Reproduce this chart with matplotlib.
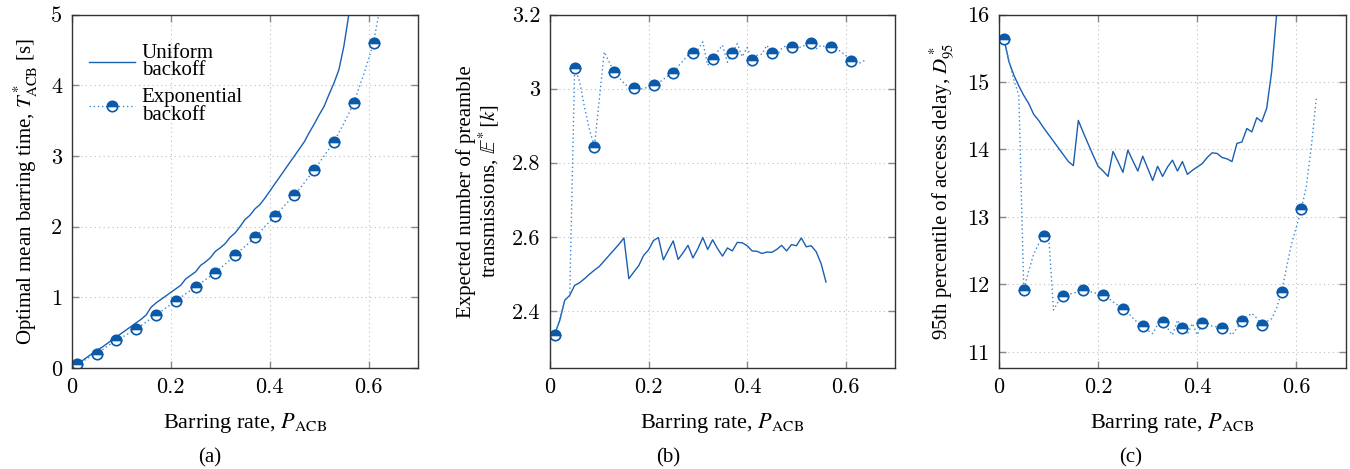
import os
import matplotlib
matplotlib.use('Agg')
import matplotlib.pyplot as plt
from matplotlib.font_manager import FontProperties
import numpy as np

plt.rcParams['font.family'] = ['Liberation Serif', 'DejaVu Serif']
plt.rcParams['mathtext.fontset'] = 'stix'

# barring rate grid, steps of 0.01
# (a) optimal mean barring time
pa_uni = [0.01, 0.02, 0.03, 0.04, 0.05, 0.06, 0.07, 0.08, 0.09, 0.10,
          0.11, 0.12, 0.13, 0.14, 0.15, 0.16, 0.17, 0.18, 0.19, 0.20,
          0.21, 0.22, 0.23, 0.24, 0.25, 0.26, 0.27, 0.28, 0.29, 0.30,
          0.31, 0.32, 0.33, 0.34, 0.35, 0.36, 0.37, 0.38, 0.39, 0.40,
          0.41, 0.42, 0.43, 0.44, 0.45, 0.46, 0.47, 0.48, 0.49, 0.50,
          0.51, 0.52, 0.53, 0.54, 0.55, 0.56, 0.57]
ta_uni = [0.05, 0.10, 0.15, 0.20, 0.25, 0.29, 0.34, 0.39, 0.44, 0.49,
          0.54, 0.59, 0.64, 0.69, 0.75, 0.86, 0.92, 0.97, 1.02, 1.07,
          1.12, 1.17, 1.26, 1.31, 1.36, 1.45, 1.50, 1.56, 1.65, 1.70,
          1.76, 1.85, 1.91, 2.00, 2.10, 2.16, 2.25, 2.31, 2.40, 2.50,
          2.60, 2.70, 2.80, 2.90, 3.00, 3.10, 3.20, 3.33, 3.45, 3.58,
          3.70, 3.87, 4.03, 4.22, 4.55, 5.00, 5.80]

pa_exp = [0.01, 0.02, 0.03, 0.04, 0.05, 0.06, 0.07, 0.08, 0.09, 0.10,
          0.11, 0.12, 0.13, 0.14, 0.15, 0.16, 0.17, 0.18, 0.19, 0.20,
          0.21, 0.22, 0.23, 0.24, 0.25, 0.26, 0.27, 0.28, 0.29, 0.30,
          0.31, 0.32, 0.33, 0.34, 0.35, 0.36, 0.37, 0.38, 0.39, 0.40,
          0.41, 0.42, 0.43, 0.44, 0.45, 0.46, 0.47, 0.48, 0.49, 0.50,
          0.51, 0.52, 0.53, 0.54, 0.55, 0.56, 0.57, 0.58, 0.59, 0.60,
          0.61, 0.62, 0.63]
ta_exp = [0.06, 0.09, 0.13, 0.17, 0.20, 0.25, 0.30, 0.35, 0.40, 0.43,
          0.47, 0.51, 0.55, 0.60, 0.65, 0.70, 0.755, 0.80, 0.85, 0.90,
          0.95, 1.00, 1.05, 1.10, 1.15, 1.20, 1.25, 1.30, 1.35, 1.41,
          1.47, 1.53, 1.60, 1.66, 1.72, 1.78, 1.85, 1.92, 2.00, 2.07,
          2.15, 2.22, 2.30, 2.37, 2.45, 2.53, 2.62, 2.71, 2.80, 2.90,
          3.00, 3.10, 3.20, 3.33, 3.46, 3.60, 3.75, 3.95, 4.15, 4.37,
          4.60, 4.98, 5.40]

# (b) expected number of preamble transmissions
pb_uni = pa_uni[:56]
eb_uni = [2.339, 2.375, 2.429, 2.442, 2.469, 2.476, 2.487, 2.499, 2.510, 2.520,
          2.535, 2.550, 2.565, 2.580, 2.597, 2.487, 2.505, 2.522, 2.550, 2.565,
          2.590, 2.598, 2.538, 2.564, 2.589, 2.539, 2.557, 2.577, 2.543, 2.568,
          2.598, 2.566, 2.592, 2.568, 2.548, 2.570, 2.562, 2.585, 2.584, 2.576,
          2.562, 2.561, 2.555, 2.559, 2.558, 2.566, 2.577, 2.562, 2.579, 2.576,
          2.597, 2.573, 2.576, 2.560, 2.528, 2.478]

pb_exp = [0.01, 0.02, 0.03, 0.04, 0.05, 0.06, 0.07, 0.08, 0.09, 0.10,
          0.11, 0.12, 0.13, 0.14, 0.15, 0.16, 0.17, 0.18, 0.19, 0.20,
          0.21, 0.22, 0.23, 0.24, 0.25, 0.26, 0.27, 0.28, 0.29, 0.30,
          0.31, 0.32, 0.33, 0.34, 0.35, 0.36, 0.37, 0.38, 0.39, 0.40,
          0.41, 0.42, 0.43, 0.44, 0.45, 0.46, 0.47, 0.48, 0.49, 0.50,
          0.51, 0.52, 0.53, 0.54, 0.55, 0.56, 0.57, 0.58, 0.59, 0.60,
          0.61, 0.62, 0.63, 0.64]
eb_exp = [2.335, 2.380, 2.430, 2.440, 3.056, 3.020, 2.950, 2.890, 2.843, 2.970,
          3.099, 3.072, 3.046, 3.030, 3.015, 3.003, 3.002, 2.998, 3.000, 3.005,
          3.010, 3.015, 3.025, 3.035, 3.041, 3.060, 3.075, 3.090, 3.095, 3.105,
          3.126, 3.063, 3.079, 3.100, 3.117, 3.071, 3.097, 3.121, 3.086, 3.111,
          3.076, 3.090, 3.093, 3.117, 3.097, 3.090, 3.108, 3.117, 3.112, 3.107,
          3.113, 3.118, 3.124, 3.107, 3.117, 3.112, 3.112, 3.108, 3.100, 3.090,
          3.075, 3.069, 3.070, 3.077]

# (c) 95th percentile of access delay
pc_uni = pa_uni
dc_uni = [15.64, 15.30, 15.10, 14.94, 14.80, 14.68, 14.52, 14.43, 14.32, 14.22,
          14.12, 14.02, 13.92, 13.82, 13.76, 14.43, 14.25, 14.08, 13.91, 13.75,
          13.68, 13.60, 13.97, 13.82, 13.66, 13.99, 13.83, 13.68, 13.90, 13.72,
          13.54, 13.75, 13.60, 13.74, 13.84, 13.68, 13.82, 13.63, 13.69, 13.74,
          13.79, 13.88, 13.95, 13.94, 13.88, 13.86, 13.82, 14.09, 14.11, 14.31,
          14.26, 14.47, 14.41, 14.61, 15.15, 16.00, 17.00]

pc_exp = pb_exp
dc_exp = [15.64, 15.32, 15.03, 14.80, 11.92, 12.20, 12.45, 12.60, 12.71, 12.75,
          11.62, 11.75, 11.82, 11.85, 11.87, 11.89, 11.91, 11.90, 11.88, 11.86,
          11.84, 11.80, 11.74, 11.69, 11.64, 11.58, 11.50, 11.43, 11.38, 11.32,
          11.27, 11.40, 11.44, 11.35, 11.25, 11.47, 11.36, 11.26, 11.42, 11.25,
          11.42, 11.43, 11.38, 11.37, 11.36, 11.32, 11.25, 11.35, 11.45, 11.52,
          11.57, 11.50, 11.40, 11.45, 11.49, 11.65, 11.88, 12.25, 12.60, 12.85,
          13.12, 13.45, 14.04, 14.75]

xticks = [0, 0.2, 0.4, 0.6]
yticks_a = [0, 1, 2, 3, 4, 5]
yticks_b = [2.4, 2.6, 2.8, 3.0, 3.2]
yticks_c = [11, 12, 13, 14, 15, 16]

c_uni = '#1a5fb0'
c_exp = '#3d88d2'
c_mk = '#0b5aaa'

# tick numbers in computer modern, like the LaTeX original
cm_path = os.path.join(matplotlib.get_data_path(), 'fonts', 'ttf', 'cmr10.ttf')
tick_font = FontProperties(fname=cm_path, size=16)

fig = plt.figure(figsize=(13.5, 4.69), dpi=100)
W, H = 1350.0, 469.0
boxes = [(72, 418), (550, 895), (999, 1346)]
axes = [fig.add_axes([l / W, (H - 368) / H, (r - l) / W, (368 - 14.5) / H]) for l, r in boxes]


def draw(ax, xu, yu, xe, ye, yticks, ylim):
    lu, = ax.plot(xu, yu, color=c_uni, linewidth=1.0)
    le, = ax.plot(xe, ye, color=c_exp, linewidth=1.0, linestyle=(0, (1, 2)),
                  marker='o', markevery=4, markersize=7.5, fillstyle='top',
                  markerfacecolor=c_mk, markerfacecoloralt='white',
                  markeredgecolor=c_mk, markeredgewidth=1.2)
    ax.set_xlim(0, 0.7)
    ax.set_ylim(*ylim)
    ax.set_xticks(xticks, ['%g' % v for v in xticks], fontproperties=tick_font)
    ax.set_yticks(yticks, ['%g' % v for v in yticks], fontproperties=tick_font)
    ax.grid(True, linestyle=(0, (1, 3)), color='#bdbdbd', linewidth=0.8)
    ax.tick_params(direction='in', top=True, right=True, color='#888888',
                   length=5, width=1, pad=7)
    for s in ax.spines.values():
        s.set_color('#333333')
        s.set_linewidth(1.0)
    ax.set_xlabel(r'Barring rate, $P_{\mathrm{ACB}}$', fontsize=16, labelpad=10)
    return lu, le


ax1, ax2, ax3 = axes

lu, le = draw(ax1, pa_uni, ta_uni, pa_exp, ta_exp, yticks_a, (0, 5))
ax1.set_ylabel(r'Optimal mean barring time, $T^*_{\mathrm{ACB}}$ [s]', fontsize=15, labelpad=8)
leg = ax1.legend([lu, le], ['Uniform\nbackoff', 'Exponential\nbackoff'], loc='upper left',
                 bbox_to_anchor=(0.0, 0.965), frameon=False, fontsize=15, handlelength=2.2,
                 labelspacing=0.4, handletextpad=0.35, borderaxespad=0.4)
for t in leg.get_texts():
    t.set_linespacing(0.9)

draw(ax2, pb_uni, eb_uni, pb_exp, eb_exp, yticks_b, (2.246, 3.2))
ax2.set_ylabel('Expected number of preamble\n' + r'transmissions, $\mathbb{E}^*[k]$',
               fontsize=15, labelpad=8, linespacing=1.0)

draw(ax3, pc_uni, dc_uni, pc_exp, dc_exp, yticks_c, (10.76, 16))
ax3.set_ylabel(r'95th percentile of access delay, $D^*_{95}$', fontsize=15, labelpad=8)

for x, t in [(210, '(a)'), (668, '(b)'), (1131, '(c)')]:
    fig.text(x / W, 1 - 458 / H, t, ha='center', va='center', fontsize=15)

plt.savefig('out.png', dpi=100)
